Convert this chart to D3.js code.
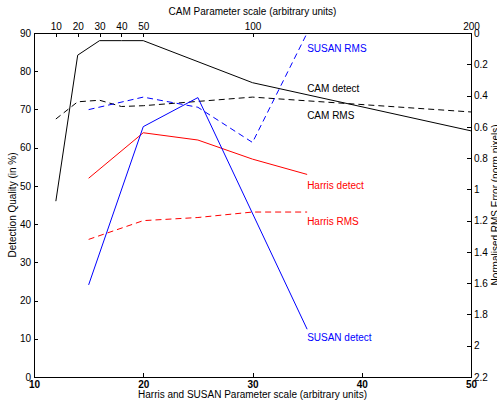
<!DOCTYPE html>
<html>
<head>
<meta charset="utf-8">
<title>Detection quality vs parameter scale</title>
<script src="https://cdn.jsdelivr.net/npm/d3@7"></script>
<style>
  body { margin: 0; background: #fff; }
  svg text { font-family: Arial, "Liberation Sans", Helvetica, sans-serif; font-size: 10px; fill: #000; }
  .axis path, .axis line { fill: none; stroke: #000; shape-rendering: crispEdges; }
</style>
</head>
<body>
<div id="chart"></div>
<script>
// Harris / SUSAN parameter values (bottom axis)
var harrisScale = [15, 20, 25, 30, 35];
var susanScale  = [15, 20, 25, 35];
// CAM parameter values (top axis)
var camScale = [10, 20, 30, 40, 50, 100, 200];

// detection quality in % (left axis)
var camDetect    = [46, 84.2, 88, 88, 88, 77, 64.4];
var harrisDetect = [52, 63.9, 62, 57, 53];
var susanDetect  = [24.1, 65.5, 73.1, 12.5];

// normalised RMS error (right axis)
var camRms    = [0.55, 0.44, 0.43, 0.47, 0.465, 0.41, 0.505];
var harrisRms = [1.32, 1.2, 1.18, 1.145, 1.145];
var susanRms  = [0.49, 0.41, 0.475, 0.70, 0.0];

// tick labels
var bottomTicks = [10, 20, 30, 40, 50];
var topTicks    = [10, 20, 30, 40, 50, 100, 200];
var leftTicks   = [0, 10, 20, 30, 40, 50, 60, 70, 80, 90];
var rightTicks  = [0, 0.2, 0.4, 0.6, 0.8, 1, 1.2, 1.4, 1.6, 1.8, 2, 2.2];

// in-plot labels
var labelNames  = ["SUSAN RMS", "CAM detect", "CAM RMS", "Harris detect", "Harris RMS", "SUSAN detect"];
var labelColors = ["#0000ff", "#000", "#000", "#ff0000", "#ff0000", "#0000ff"];
var labelX = [35, 35, 35, 35, 35, 35];
var labelY = [86, 75.4, 68.3, 50.1, 40.8, 10.3];

var W = 497, H = 405;
var plotL = 34, plotR = 471, plotT = 33, plotB = 377;

var svg = d3.select("#chart").append("svg")
    .attr("width", W)
    .attr("height", H);

var x  = d3.scaleLinear().domain([10, 50]).range([plotL, plotR]);
var xc = d3.scaleLinear().domain([0, 200]).range([plotL, plotR]);
var y  = d3.scaleLinear().domain([0, 90]).range([plotB, plotT]);
var yr = d3.scaleLinear().domain([0, 2.2]).range([plotT, plotB]);

// axes (ticks point inwards)
svg.append("g").attr("class", "axis")
    .attr("transform", "translate(0," + plotB + ")")
    .call(d3.axisBottom(x).tickValues(bottomTicks).tickSizeInner(-4).tickSizeOuter(0).tickPadding(4))
    .selectAll("text").style("font-weight", "bold");

svg.append("g").attr("class", "axis")
    .attr("transform", "translate(0," + plotT + ")")
    .call(d3.axisTop(xc).tickValues(topTicks).tickSizeInner(-4).tickSizeOuter(0).tickPadding(3));

svg.append("g").attr("class", "axis")
    .attr("transform", "translate(" + plotL + ",0)")
    .call(d3.axisLeft(y).tickValues(leftTicks).tickSizeInner(-4).tickSizeOuter(0).tickPadding(3));

svg.append("g").attr("class", "axis")
    .attr("transform", "translate(" + plotR + ",0)")
    .call(d3.axisRight(yr).tickValues(rightTicks).tickFormat(function(d) { return String(+d.toFixed(1)); })
        .tickSizeInner(-4).tickSizeOuter(0).tickPadding(3));

svg.selectAll(".axis text").style("font-size", "10px").attr("font-family", null);

// axis titles
svg.append("text")
    .attr("x", (plotL + plotR) / 2).attr("y", 15)
    .attr("text-anchor", "middle")
    .text("CAM Parameter scale (arbitrary units)");

svg.append("text")
    .attr("x", (plotL + plotR) / 2).attr("y", 398)
    .attr("text-anchor", "middle")
    .text("Harris and SUSAN Parameter scale (arbitrary units)");

svg.append("text")
    .attr("transform", "translate(16," + (plotT + plotB) / 2 + ") rotate(-90)")
    .attr("text-anchor", "middle")
    .text("Detection Quality (in %)");

svg.append("text")
    .attr("transform", "translate(499," + (plotT + plotB) / 2 + ") rotate(-90)")
    .attr("text-anchor", "middle")
    .text("Normalised RMS Error (norm pixels)");

// clip lines to the plot box
svg.append("clipPath").attr("id", "box")
  .append("rect")
    .attr("x", plotL).attr("y", plotT)
    .attr("width", plotR - plotL).attr("height", plotB - plotT);

var plot = svg.append("g").attr("clip-path", "url(#box)");

function addLine(xs, vs, xScale, yScale, color, dashed) {
  var pts = xs.map(function(v, i) { return [v, vs[i]]; });
  plot.append("path")
      .datum(pts)
      .attr("d", d3.line()
        .x(function(d) { return xScale(d[0]); })
        .y(function(d) { return yScale(d[1]); }))
      .attr("fill", "none")
      .attr("stroke", color)
      .attr("stroke-width", 1)
      .attr("stroke-dasharray", dashed ? "6,4" : null);
}

addLine(camScale, camDetect, xc, y, "#000", false);
addLine(camScale, camRms, xc, yr, "#000", true);
addLine(harrisScale, harrisDetect, x, y, "#ff0000", false);
addLine(harrisScale, harrisRms, x, yr, "#ff0000", true);
addLine(susanScale, susanDetect, x, y, "#0000ff", false);
addLine(harrisScale, susanRms, x, yr, "#0000ff", true);

// plot box
svg.append("rect")
    .attr("x", plotL).attr("y", plotT)
    .attr("width", plotR - plotL).attr("height", plotB - plotT)
    .attr("fill", "none")
    .attr("stroke", "#000")
    .attr("shape-rendering", "crispEdges");

// labels next to the curves
svg.selectAll(".lbl")
  .data(labelNames)
  .enter().append("text")
    .attr("class", "lbl")
    .attr("x", function(d, i) { return x(labelX[i]); })
    .attr("y", function(d, i) { return y(labelY[i]); })
    .attr("dy", "0.35em")
    .style("fill", function(d, i) { return labelColors[i]; })
    .text(function(d) { return d; });
</script>
</body>
</html>
